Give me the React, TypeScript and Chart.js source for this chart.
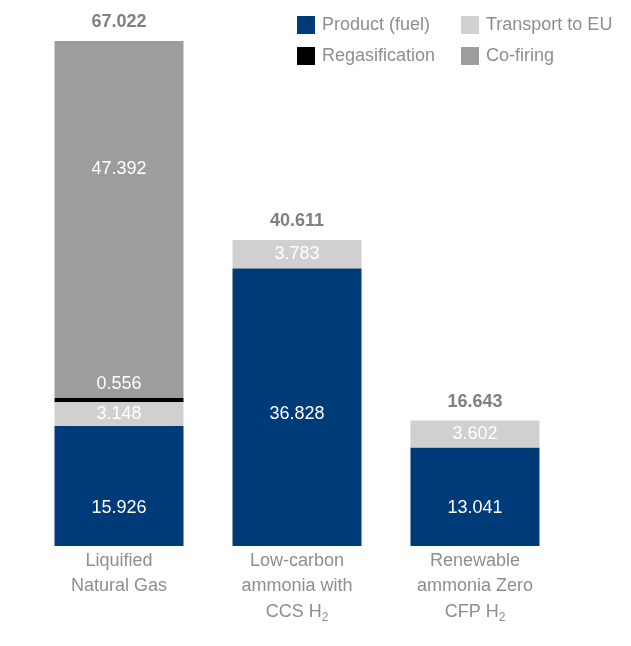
import React, { useEffect, useRef } from "react";
import { Chart, registerables } from "chart.js";

Chart.register(...registerables);

const CATEGORIES = [
  "Liquified Natural Gas",
  "Low-carbon ammonia with CCS H₂",
  "Renewable ammonia Zero CFP H₂",
];
const CATEGORY_LINES = [
  ["Liquified", "Natural Gas"],
  ["Low-carbon", "ammonia with", "CCS H₂"],
  ["Renewable", "ammonia Zero", "CFP H₂"],
];
const SERIES_NAMES = ["Product (fuel)", "Transport to EU", "Regasification", "Co-firing"];
const PRODUCT = [15.926, 36.828, 13.041];
const TRANSPORT = [3.148, 3.783, 3.602];
const REGAS = [0.556, 0, 0];
const COFIRING = [47.392, 0, 0];
const COLORS = ["#003b79", "#d0d0d0", "#000000", "#9d9d9c"];
// where each value label sits, in data units (null = middle of its segment)
const PRODUCT_LABEL_AT = [5.04, 17.5, 5.04];
const TRANSPORT_LABEL_AT = [null, null, null];
const REGAS_LABEL_AT = [21.5, null, null];
const COFIRING_LABEL_AT = [50.0, null, null];

const SERIES = [PRODUCT, TRANSPORT, REGAS, COFIRING];
const LABEL_AT = [PRODUCT_LABEL_AT, TRANSPORT_LABEL_AT, REGAS_LABEL_AT, COFIRING_LABEL_AT];
const TOTALS = CATEGORIES.map((_, j) => SERIES.reduce((s, arr) => s + arr[j], 0));

const FONT = "'Liberation Sans', Arial, Helvetica, sans-serif";
const GREY_TEXT = "#8e8e8e";

function drawLineWithSub(ctx: CanvasRenderingContext2D, line: string, cx: number, cy: number) {
  // split into normal / subscript parts
  const parts: { t: string; sub: boolean }[] = [];
  for (const ch of line) {
    const sub = ch === "₂";
    const t = sub ? "2" : ch;
    const last = parts[parts.length - 1];
    if (last && last.sub === sub) last.t += t;
    else parts.push({ t, sub });
  }
  const mainFont = `18px ${FONT}`;
  const subFont = `12px ${FONT}`;
  let total = 0;
  for (const p of parts) {
    ctx.font = p.sub ? subFont : mainFont;
    total += ctx.measureText(p.t).width;
  }
  let x = cx - total / 2;
  ctx.textAlign = "left";
  for (const p of parts) {
    ctx.font = p.sub ? subFont : mainFont;
    ctx.fillText(p.t, x, p.sub ? cy + 6 : cy);
    x += ctx.measureText(p.t).width;
  }
}

const labelsPlugin = {
  id: "customLabels",
  afterDraw(chart: any) {
    const ctx: CanvasRenderingContext2D = chart.ctx;
    const yScale = chart.scales.y;
    const xScale = chart.scales.x;
    ctx.save();
    ctx.textBaseline = "middle";

    // value labels
    SERIES.forEach((arr, i) => {
      const meta = chart.getDatasetMeta(i);
      meta.data.forEach((el: any, j: number) => {
        const v = arr[j];
        if (!v) return;
        const at = LABEL_AT[i][j];
        const y = at == null ? (el.y + el.base) / 2 : yScale.getPixelForValue(at);
        ctx.font = `18px ${FONT}`;
        ctx.fillStyle = "#ffffff";
        ctx.textAlign = "center";
        ctx.fillText(v.toFixed(3), el.x, y);
      });
    });

    // totals
    TOTALS.forEach((t, j) => {
      const x = xScale.getPixelForValue(j);
      const y = yScale.getPixelForValue(t) - 19;
      ctx.font = `bold 18px ${FONT}`;
      ctx.fillStyle = "#808080";
      ctx.textAlign = "center";
      ctx.fillText(t.toFixed(3), x, y);
    });

    // category labels
    ctx.fillStyle = GREY_TEXT;
    CATEGORY_LINES.forEach((lines, j) => {
      const x = xScale.getPixelForValue(j);
      lines.forEach((line, k) => {
        drawLineWithSub(ctx, line, x, chart.chartArea.bottom + 15 + k * 25.5);
      });
    });

    // legend (2 columns)
    const colX = [297, 461];
    const rowY = [16, 47];
    SERIES_NAMES.forEach((name, i) => {
      const cx = colX[i % 2];
      const cy = rowY[Math.floor(i / 2)];
      ctx.fillStyle = COLORS[i];
      ctx.fillRect(cx, cy, 18, 18);
      ctx.fillStyle = GREY_TEXT;
      ctx.font = `18px ${FONT}`;
      ctx.textAlign = "left";
      ctx.fillText(name, cx + 25, cy + 9);
    });
    ctx.restore();
  },
};

export default function App() {
  const ref = useRef<HTMLCanvasElement | null>(null);
  useEffect(() => {
    if (!ref.current) return;
    const chart = new Chart(ref.current, {
      type: "bar",
      data: {
        labels: CATEGORIES,
        datasets: SERIES.map((arr, i) => ({
          label: SERIES_NAMES[i],
          data: arr,
          backgroundColor: COLORS[i],
          borderWidth: 0,
          stack: "s",
          barPercentage: 129 / 178,
          categoryPercentage: 1,
        })),
      },
      options: {
        responsive: false,
        animation: false,
        layout: { padding: { left: 30, right: 67, top: 41, bottom: 100 } },
        plugins: { legend: { display: false }, tooltip: { enabled: false } },
        scales: {
          x: { display: false, stacked: true, grid: { display: false } },
          y: {
            display: false,
            stacked: true,
            min: 0,
            max: Math.max(...TOTALS),
            grid: { display: false },
          },
        },
      },
      plugins: [labelsPlugin],
    });
    return () => chart.destroy();
  }, []);
  return (
    <div style={{ position: "fixed", left: 0, top: 0, width: 631, height: 646, background: "#fff" }}>
      <canvas ref={ref} width={631} height={646} style={{ display: "block" }} />
    </div>
  );
}
